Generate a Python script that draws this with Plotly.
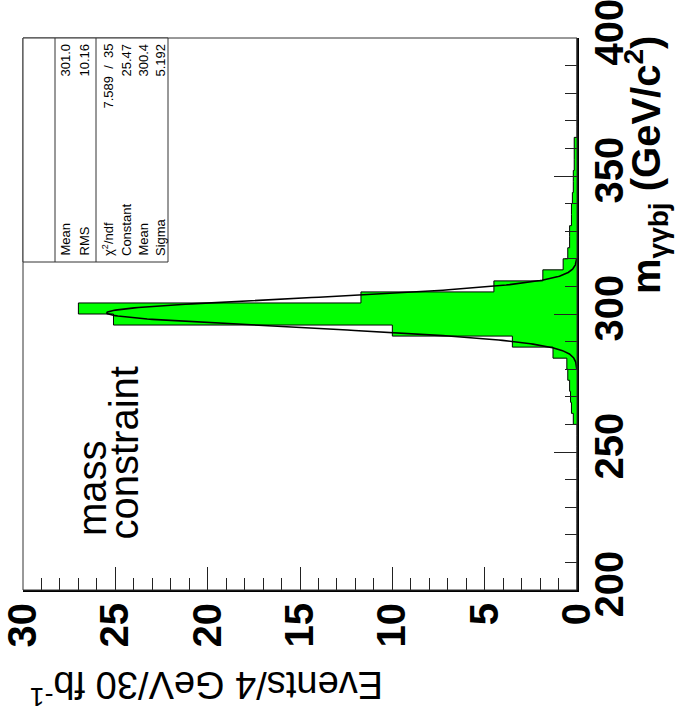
import numpy as np
import plotly.graph_objects as go

# ---------------- data ----------------
bin_low_edges = list(range(200, 400, 4))          # m_gammagammabj bins, 4 GeV wide
bin_counts = [0] * 15 + [
    0.2, 0.3, 0.35, 0.4, 0.5, 0.55,                # 260-280
    1.3, 3.5, 10.0, 25.1, 27.0, 11.7, 4.5, 1.85, 0.75,   # 284-316
    0.5, 0.4, 0.4, 0.3, 0.3, 0.25, 0.2, 0.2, 0.15, 0.15, 0.15,  # 320-360
] + [0] * 9
# fit parameters (Gaussian), as shown in the stats box
fit_constant = 25.47
fit_mean = 300.4
fit_sigma = 5.192
fit_range = [280, 320]

stat_labels = ["Mean", "RMS", "χ<sup>2</sup>/ndf", "Constant", "Mean", "Sigma"]
stat_values = ["301.0", "10.16", "7.589  /  35", "25.47", "300.4", "5.192"]

x_ticks = [0, 5, 10, 15, 20, 25, 30]
y_ticks = [200, 250, 300, 350, 400]

# ---------------- geometry ----------------
W, H = 684, 721
L, R, T, B = 23, 577, 38, 590


def px(x):
    return (x - L) / (R - L)


def py(y):
    return (B - y) / (B - T)


# ---------------- traces ----------------
edges = bin_low_edges + [400]
xs = list(bin_counts) + [bin_counts[-1]]
ys = edges

fig = go.Figure()
fig.add_trace(go.Scatter(
    x=xs, y=ys, mode="lines", line=dict(shape="vh", color="black", width=1),
    fill="tozerox", fillcolor="#00ff00", hoverinfo="skip"))

mfit = np.linspace(fit_range[0], fit_range[1], 300)
vfit = fit_constant * np.exp(-0.5 * ((mfit - fit_mean) / fit_sigma) ** 2)
fig.add_trace(go.Scatter(x=vfit, y=mfit, mode="lines",
                         line=dict(color="black", width=1.6), hoverinfo="skip"))

font_fam = "Liberation Sans, Arial, sans-serif"

fig.update_layout(
    width=W, height=H, showlegend=False,
    margin=dict(l=L, r=W - R, t=T, b=H - B, autoexpand=False),
    paper_bgcolor="white", plot_bgcolor="white",
    xaxis=dict(range=[30, 0], tickvals=x_ticks, ticks="inside", ticklen=23,
               tickwidth=1, tickcolor="#222", showline=True, linewidth=2,
               linecolor="black", showgrid=False, zeroline=False,
               tickangle=-90, automargin=False, ticklabelstandoff=-5,
               ticklabeloverflow="allow",
               tickfont=dict(family=font_fam, size=40, color="black", weight="bold"),
               minor=dict(dtick=1, ticks="inside", ticklen=12, tickwidth=1,
                          tickcolor="#222", showgrid=False)),
    yaxis=dict(range=[200, 400], tickvals=y_ticks, side="right", ticks="inside",
               ticklen=23, tickwidth=1, tickcolor="#222", showline=True,
               linewidth=2, linecolor="black", showgrid=False, zeroline=False,
               tickangle=-90, automargin=False, ticklabelstandoff=-4,
               ticklabeloverflow="allow",
               tickfont=dict(family=font_fam, size=40, color="black", weight="bold"),
               minor=dict(dtick=10, ticks="inside", ticklen=12, tickwidth=1,
                          tickcolor="#222", showgrid=False)),
)

shapes = []
# frame (top / left thin lines)
shapes.append(dict(type="rect", xref="paper", yref="paper", x0=0, x1=1, y0=0, y1=1,
                   line=dict(color="#333", width=1)))
# stats box
sb_x0, sb_x1, sb_y0, sb_y1 = 23, 168, 38, 262
shapes.append(dict(type="rect", xref="paper", yref="paper",
                   x0=px(sb_x0), x1=px(sb_x1), y0=py(sb_y1), y1=py(sb_y0),
                   line=dict(color="#333", width=1), fillcolor="white", layer="above"))
shapes.append(dict(type="line", xref="paper", yref="paper",
                   x0=px(96), x1=px(96), y0=py(sb_y1), y1=py(sb_y0),
                   line=dict(color="#333", width=1), layer="above"))
shapes.append(dict(type="line", xref="paper", yref="paper",
                   x0=px(55), x1=px(55), y0=py(sb_y1), y1=py(sb_y0),
                   line=dict(color="#333", width=1), layer="above"))

annotations = []
col_x = [65, 84, 108, 126, 143, 160]
for lab, val, cx in zip(stat_labels, stat_values, col_x):
    annotations.append(dict(xref="paper", yref="paper", x=px(cx), y=py(258),
                            text=lab, showarrow=False, textangle=-90,
                            xanchor="center", yanchor="bottom",
                            font=dict(family=font_fam, size=13, color="black")))
    annotations.append(dict(xref="paper", yref="paper", x=px(cx), y=py(42),
                            text=val, showarrow=False, textangle=-90,
                            xanchor="center", yanchor="top",
                            font=dict(family=font_fam, size=13, color="black")))

annotations.append(dict(xref="paper", yref="paper", x=px(92), y=py(538),
                        text="mass", showarrow=False, textangle=-90,
                        xanchor="center", yanchor="bottom",
                        font=dict(family=font_fam, size=40, color="black")))
annotations.append(dict(xref="paper", yref="paper", x=px(123), y=py(542),
                        text="constraint", showarrow=False, textangle=-90,
                        xanchor="center", yanchor="bottom",
                        font=dict(family=font_fam, size=40, color="black")))

annotations.append(dict(xref="paper", yref="paper", x=px(207), y=py(688),
                        text="Events/4 GeV/30 fb<sup>-1</sup>", showarrow=False,
                        textangle=180, xanchor="center", yanchor="middle",
                        font=dict(family=font_fam, size=38, color="black")))

annotations.append(dict(xref="paper", yref="paper", x=px(646), y=py(34),
                        text="m<sub>γγbj</sub> (GeV/c<sup>2</sup>)", showarrow=False,
                        textangle=-90, xanchor="center", yanchor="top",
                        font=dict(family=font_fam, size=40, color="black", weight="bold")))

fig.update_layout(shapes=shapes, annotations=annotations)
fig.write_html("out.html")
